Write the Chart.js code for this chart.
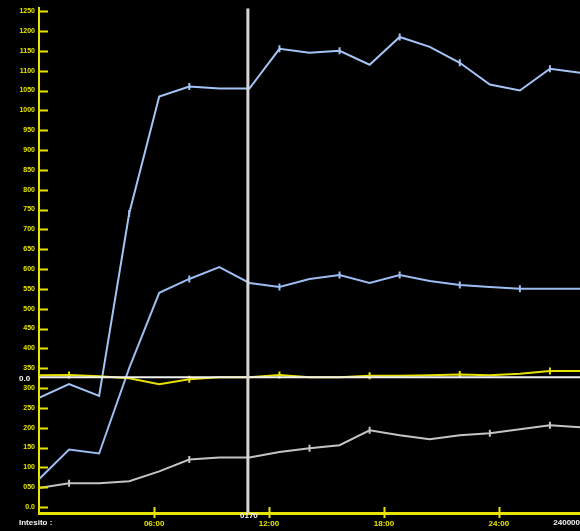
<!DOCTYPE html>
<html>
<head>
<meta charset="utf-8">
<script src="https://cdn.jsdelivr.net/npm/chart.js@4.4.1/dist/chart.umd.min.js"></script>
<style>
  html, body { margin: 0; padding: 0; background: #000; }
  #wrap { width: 580px; height: 531px; }
</style>
</head>
<body>
<div id="wrap"><canvas id="monitor" width="580" height="531"></canvas></div>
<script>
// values, one per sample
const upperBlue = [5.5, 6.2, 5.6, 14.8, 20.7, 21.2, 21.1, 21.1, 23.1, 22.9, 23.0, 22.3, 23.7, 23.2, 22.4, 21.3, 21.0, 22.1, 21.9];
const lowerBlue = [1.4, 2.9, 2.7, 7.0, 10.8, 11.5, 12.1, 11.3, 11.1, 11.5, 11.7, 11.3, 11.7, 11.4, 11.2, 11.1, 11.0, 11.0, 11.0];
const yellowLine = [6.64, 6.66, 6.59, 6.49, 6.19, 6.44, 6.54, 6.54, 6.66, 6.54, 6.54, 6.62, 6.62, 6.64, 6.68, 6.64, 6.72, 6.86, 6.86];
const grayLine = [0.96, 1.2, 1.2, 1.3, 1.8, 2.4, 2.5, 2.5, 2.77, 2.97, 3.12, 3.87, 3.62, 3.42, 3.62, 3.72, 3.92, 4.12, 4.02];

// indices where the little markers sit on each trace
const upperMarks = [3, 5, 8, 10, 12, 14, 17];
const lowerMarks = [5, 8, 10, 12, 14, 16];
const yellowMarks = [1, 5, 8, 11, 14, 17];
const grayMarks = [1, 5, 9, 11, 15, 17];

const yTicks = [0, 1, 2, 3, 4, 5, 6, 7, 8, 9, 10, 11, 12, 13, 14, 15, 16, 17, 18, 19, 20, 21, 22, 23, 24, 25];
const yTickLabels = ['0.0', '050', '100', '150', '200', '250', '300', '350', '400', '450', '500', '550', '600',
  '650', '700', '750', '800', '850', '900', '950', '1000', '1050', '1100', '1150', '1200', '1250'];
const xTicks = [3.83, 7.65, 11.48, 15.3];
const xTickLabels = ['06:00', '12:00', '18:00', '24:00'];

const refLevel = 6.54;   // horizontal white line
const cursorAt = 6.95;   // vertical white cursor
const yMin = -0.3, yMax = 25.15;

const YELLOW = '#e8e400';

function pts(arr) {
    return arr.map((v, i) => ({ x: i, y: v }));
}
function marks(arr, idx) {
    return arr.map((v, i) => idx.includes(i) ? 3.5 : 0);
}

function trace(data, idx, color) {
    return {
        data: pts(data),
        borderColor: color,
        borderWidth: 2,
        pointStyle: 'line',
        rotation: 90,
        pointRadius: marks(data, idx),
        pointBorderColor: color,
        pointBorderWidth: 2,
        tension: 0,
        order: 2
    };
}

const overlay = {
    id: 'overlay',
    afterDraw(chart) {
        const { ctx, chartArea, scales } = chart;
        const y = scales.y, x = scales.x;
        ctx.save();
        // y tick marks drawn inside the plot
        ctx.strokeStyle = YELLOW;
        ctx.lineWidth = 2;
        y.ticks.forEach((t, i) => {
            const py = Math.round(y.getPixelForTick(i)) + 0.5;
            ctx.beginPath();
            ctx.moveTo(chartArea.left, py);
            ctx.lineTo(chartArea.left + 9, py);
            ctx.stroke();
        });
        // x tick marks across the bottom line
        x.ticks.forEach((t, i) => {
            const px = Math.round(x.getPixelForTick(i)) + 0.5;
            ctx.beginPath();
            ctx.moveTo(px, chartArea.bottom - 6);
            ctx.lineTo(px, chartArea.bottom + 5);
            ctx.stroke();
        });
        // white texts
        ctx.fillStyle = '#f4f4f4';
        ctx.font = 'bold 8px "Liberation Sans", Arial, sans-serif';
        ctx.textBaseline = 'middle';
        ctx.textAlign = 'left';
        ctx.fillText('Intesito :', 19, 523);
        ctx.fillText('0.0', 19, y.getPixelForValue(refLevel) + 1);
        ctx.textAlign = 'center';
        ctx.fillText('0170', x.getPixelForValue(cursorAt) + 1, chartArea.bottom + 3);
        ctx.textAlign = 'right';
        ctx.fillText('240000', 580, 523);
        ctx.restore();
    }
};

const ctx = document.getElementById('monitor').getContext('2d');
window.monitorChart = new Chart(ctx, {
    type: 'line',
    data: {
        datasets: [
            {
                data: [{ x: 0, y: refLevel }, { x: 18, y: refLevel }],
                borderColor: '#f2f2f2', borderWidth: 2, pointRadius: 0, order: 1
            },
            {
                data: [{ x: cursorAt, y: yMin }, { x: cursorAt, y: yMax }],
                borderColor: '#d6d6d6', borderWidth: 3, pointRadius: 0, order: 0
            },
            trace(yellowLine, yellowMarks, '#e6e000'),
            trace(grayLine, grayMarks, '#c4c4c4'),
            trace(lowerBlue, lowerMarks, '#9cbcf2'),
            trace(upperBlue, upperMarks, '#a4c4f6')
        ]
    },
    options: {
        responsive: false,
        animation: false,
        devicePixelRatio: 1,
        layout: { padding: { top: 7, right: 0, left: 0, bottom: 0 } },
        scales: {
            x: {
                type: 'linear',
                min: 0,
                max: 18,
                afterBuildTicks: (axis) => { axis.ticks = xTicks.map(v => ({ value: v })); },
                afterFit: (axis) => { axis.height = 18; },
                grid: { drawOnChartArea: false, drawTicks: false },
                border: { color: YELLOW, width: 3 },
                ticks: {
                    color: YELLOW,
                    padding: 6,
                    maxRotation: 0,
                    autoSkip: false,
                    font: { family: 'Liberation Sans', size: 8, weight: 'bold' },
                    callback: (v, i) => xTickLabels[i]
                }
            },
            y: {
                min: yMin,
                max: yMax,
                afterBuildTicks: (axis) => { axis.ticks = yTicks.map(v => ({ value: v })); },
                afterFit: (axis) => { axis.width = 39; },
                grid: { drawOnChartArea: false, drawTicks: false },
                border: { color: YELLOW, width: 2 },
                ticks: {
                    color: YELLOW,
                    padding: 4,
                    autoSkip: false,
                    font: { family: 'Liberation Sans', size: 7, weight: 'bold' },
                    callback: (v, i) => yTickLabels[i]
                }
            }
        },
        plugins: {
            legend: { display: false },
            tooltip: { enabled: false }
        }
    },
    plugins: [overlay]
});
</script>
</body>
</html>
